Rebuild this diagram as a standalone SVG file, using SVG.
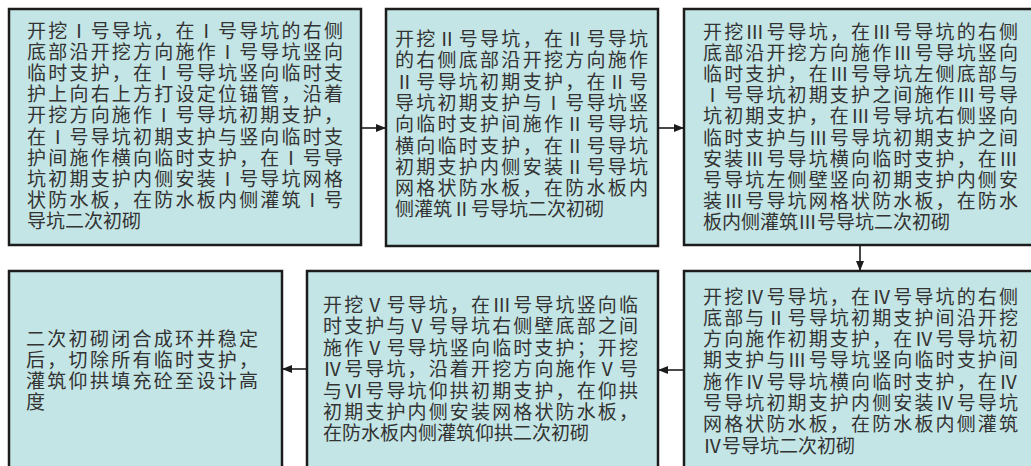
<svg xmlns="http://www.w3.org/2000/svg" width="1031" height="466" viewBox="0 0 1031 466">
<defs>
<style>
.box{fill:#c3e5e5;stroke:#1c1c1c;stroke-width:2.5}
.t{font-family:"Liberation Serif","Noto Sans CJK SC","Noto Sans CJK JP",serif;font-size:19px;fill:#333333}
.c{stroke:#1c1c1c;stroke-width:1.6;fill:none}
</style>
<marker id="ah" markerWidth="10" markerHeight="8" refX="9" refY="4" orient="auto" markerUnits="userSpaceOnUse">
<path d="M0,0 L10,4 L0,8 Z" fill="#1c1c1c"/>
</marker>
</defs>
<rect width="1031" height="466" fill="#ffffff"/>
<g id="connectors">
<line class="c" x1="362" y1="128" x2="385" y2="128" marker-end="url(#ah)"/>
<line class="c" x1="659" y1="128" x2="683" y2="128" marker-end="url(#ah)"/>
<line class="c" x1="860" y1="246" x2="860" y2="270" marker-end="url(#ah)"/>
<line class="c" x1="684" y1="370" x2="659" y2="370" marker-end="url(#ah)"/>
<line class="c" x1="307" y1="369" x2="283" y2="369" marker-end="url(#ah)"/>
</g>
<g id="n1">
<rect class="box" x="9" y="9" width="352" height="236"/>
<g class="t">
<text x="27" y="37.5" textLength="316" lengthAdjust="spacing">开挖Ⅰ号导坑，在Ⅰ号导坑的右侧</text>
<text x="27" y="58.7" textLength="316" lengthAdjust="spacing">底部沿开挖方向施作Ⅰ号导坑竖向</text>
<text x="27" y="79.9" textLength="316" lengthAdjust="spacing">临时支护，在Ⅰ号导坑竖向临时支</text>
<text x="27" y="101.1" textLength="316" lengthAdjust="spacing">护上向右上方打设定位锚管，沿着</text>
<text x="27" y="122.3" textLength="316" lengthAdjust="spacing">开挖方向施作Ⅰ号导坑初期支护，</text>
<text x="27" y="143.5" textLength="316" lengthAdjust="spacing">在Ⅰ号导坑初期支护与竖向临时支</text>
<text x="27" y="164.7" textLength="316" lengthAdjust="spacing">护间施作横向临时支护，在Ⅰ号导</text>
<text x="27" y="185.9" textLength="316" lengthAdjust="spacing">坑初期支护内侧安装Ⅰ号导坑网格</text>
<text x="27" y="207.1" textLength="316" lengthAdjust="spacing">状防水板，在防水板内侧灌筑Ⅰ号</text>
<text x="27" y="228.3">导坑二次初砌</text>
</g>
</g>
<g id="n2">
<rect class="box" x="386" y="9" width="272" height="237"/>
<g class="t">
<text x="395" y="46" textLength="253" lengthAdjust="spacing">开挖Ⅱ号导坑，在Ⅱ号导坑</text>
<text x="395" y="67.3" textLength="253" lengthAdjust="spacing">的右侧底部沿开挖方向施作</text>
<text x="395" y="88.6" textLength="253" lengthAdjust="spacing">Ⅱ号导坑初期支护，在Ⅱ号</text>
<text x="395" y="109.9" textLength="253" lengthAdjust="spacing">导坑初期支护与Ⅰ号导坑竖</text>
<text x="395" y="131.2" textLength="253" lengthAdjust="spacing">向临时支护间施作Ⅱ号导坑</text>
<text x="395" y="152.5" textLength="253" lengthAdjust="spacing">横向临时支护，在Ⅱ号导坑</text>
<text x="395" y="173.8" textLength="253" lengthAdjust="spacing">初期支护内侧安装Ⅱ号导坑</text>
<text x="395" y="195.1" textLength="253" lengthAdjust="spacing">网格状防水板，在防水板内</text>
<text x="395" y="216.4">侧灌筑Ⅱ号导坑二次初砌</text>
</g>
</g>
<g id="n3">
<rect class="box" x="684" y="9" width="352" height="236"/>
<g class="t">
<text x="703" y="38.5" textLength="315" lengthAdjust="spacing">开挖Ⅲ号导坑，在Ⅲ号导坑的右侧</text>
<text x="703" y="59.7" textLength="315" lengthAdjust="spacing">底部沿开挖方向施作Ⅲ号导坑竖向</text>
<text x="703" y="80.9" textLength="315" lengthAdjust="spacing">临时支护，在Ⅲ号导坑左侧底部与</text>
<text x="703" y="102.1" textLength="315" lengthAdjust="spacing">Ⅰ号导坑初期支护之间施作Ⅲ号导</text>
<text x="703" y="123.3" textLength="315" lengthAdjust="spacing">坑初期支护，在Ⅲ号导坑右侧竖向</text>
<text x="703" y="144.5" textLength="315" lengthAdjust="spacing">临时支护与Ⅲ号导坑初期支护之间</text>
<text x="703" y="165.7" textLength="315" lengthAdjust="spacing">安装Ⅲ号导坑横向临时支护，在Ⅲ</text>
<text x="703" y="186.9" textLength="315" lengthAdjust="spacing">号导坑左侧壁竖向初期支护内侧安</text>
<text x="703" y="208.1" textLength="315" lengthAdjust="spacing">装Ⅲ号导坑网格状防水板，在防水</text>
<text x="703" y="229.3">板内侧灌筑Ⅲ号导坑二次初砌</text>
</g>
</g>
<g id="n4">
<rect class="box" x="684" y="271" width="352" height="200"/>
<g class="t">
<text x="703" y="303.5" textLength="315" lengthAdjust="spacing">开挖Ⅳ号导坑，在Ⅳ号导坑的右侧</text>
<text x="703" y="324.8" textLength="315" lengthAdjust="spacing">底部与Ⅱ号导坑初期支护间沿开挖</text>
<text x="703" y="346.1" textLength="315" lengthAdjust="spacing">方向施作初期支护，在Ⅳ号导坑初</text>
<text x="703" y="367.4" textLength="315" lengthAdjust="spacing">期支护与Ⅲ号导坑竖向临时支护间</text>
<text x="703" y="388.7" textLength="315" lengthAdjust="spacing">施作Ⅳ号导坑横向临时支护，在Ⅳ</text>
<text x="703" y="410" textLength="315" lengthAdjust="spacing">号导坑初期支护内侧安装Ⅳ号导坑</text>
<text x="703" y="431.3" textLength="315" lengthAdjust="spacing">网格状防水板，在防水板内侧灌筑</text>
<text x="703" y="452.6">Ⅳ号导坑二次初砌</text>
</g>
</g>
<g id="n5">
<rect class="box" x="307" y="271" width="351" height="200"/>
<g class="t">
<text x="323" y="312" textLength="315" lengthAdjust="spacing">开挖Ⅴ号导坑，在Ⅲ号导坑竖向临</text>
<text x="323" y="333.4" textLength="315" lengthAdjust="spacing">时支护与Ⅴ号导坑右侧壁底部之间</text>
<text x="323" y="354.8" textLength="315" lengthAdjust="spacing">施作Ⅴ号导坑竖向临时支护；开挖</text>
<text x="323" y="376.2" textLength="315" lengthAdjust="spacing">Ⅳ号导坑，沿着开挖方向施作Ⅴ号</text>
<text x="323" y="397.6" textLength="315" lengthAdjust="spacing">与Ⅵ号导坑仰拱初期支护，在仰拱</text>
<text x="323" y="419" textLength="315" lengthAdjust="spacing">初期支护内侧安装网格状防水板，</text>
<text x="323" y="440.4">在防水板内侧灌筑仰拱二次初砌</text>
</g>
</g>
<g id="n6">
<rect class="box" x="9" y="271" width="273" height="200"/>
<g class="t">
<text x="26" y="345.5" textLength="232" lengthAdjust="spacing">二次初砌闭合成环并稳定</text>
<text x="26" y="366.5" textLength="232" lengthAdjust="spacing">后，切除所有临时支护，</text>
<text x="26" y="387.5" textLength="232" lengthAdjust="spacing">灌筑仰拱填充砼至设计高</text>
<text x="26" y="408.5">度</text>
</g>
</g>
</svg>
